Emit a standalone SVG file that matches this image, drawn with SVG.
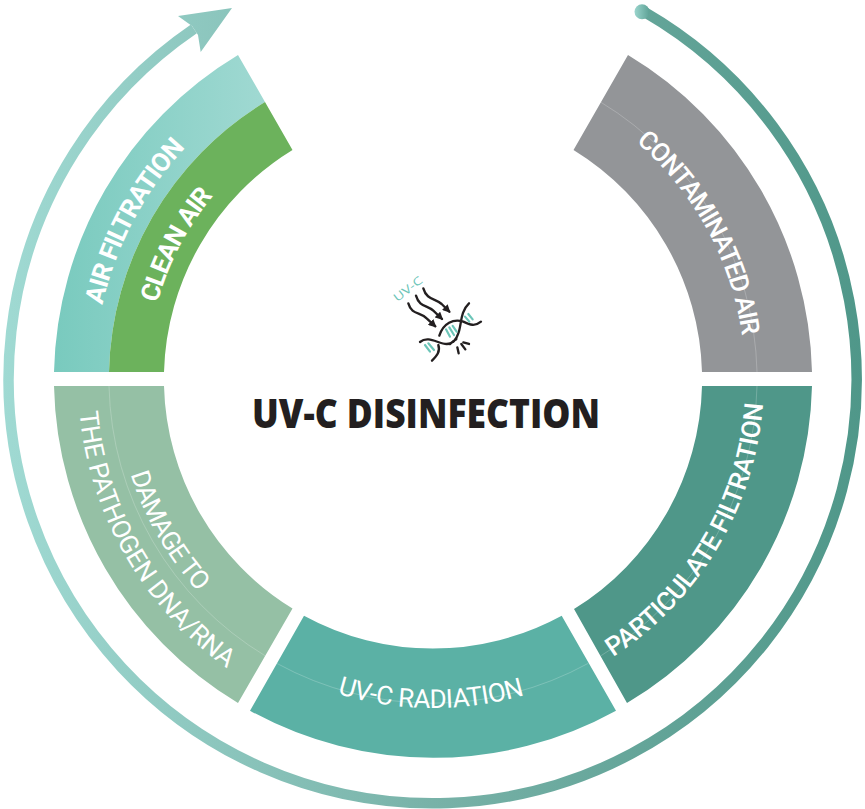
<svg xmlns="http://www.w3.org/2000/svg" width="865" height="809" viewBox="0 0 865 809">
<style>
.lbl{font-family:Roboto,"Noto Sans",sans-serif;font-size:26px;fill:#fff}
.b{font-weight:700}
.m{font-weight:500}
.hair{fill:none;stroke:#fff;stroke-opacity:.3;stroke-width:.7}
.ar{fill:none;stroke:#231f20;stroke-width:7;stroke-linecap:round}
.st{fill:none;stroke:#231f20;stroke-width:7;stroke-linecap:round;stroke-linejoin:round}
.bar{stroke:#6cc5b8;stroke-width:6.5;stroke-linecap:round;fill:none}
</style>
<defs>
<linearGradient id="ringG" gradientUnits="userSpaceOnUse" x1="0" y1="0" x2="865" y2="0"><stop offset="0" stop-color="#a0dad3"/><stop offset=".5" stop-color="#78b2a8"/><stop offset="1" stop-color="#4f9789"/></linearGradient>
<linearGradient id="airG" gradientUnits="userSpaceOnUse" x1="54" y1="0" x2="265" y2="0"><stop offset="0" stop-color="#79cabe"/><stop offset="1" stop-color="#a0d9d2"/></linearGradient>
<linearGradient id="dotG" x1="0" y1="0" x2="1" y2="0"><stop offset="0" stop-color="#9bd5cd"/><stop offset="1" stop-color="#5da296"/></linearGradient>
<marker id="mh" viewBox="0 0 10 10" refX="8" refY="5" markerWidth="24" markerHeight="24" markerUnits="userSpaceOnUse" orient="auto"><path d="M0 0L10 5L0 10z" fill="#231f20"/></marker>
<path id="pAir" d="M102.500 305A339 339 0 0 1 433 40"/>
<path id="pClean" d="M157.500 303A287 287 0 0 1 433 92"/>
<path id="pCont" d="M635.900 141.900A312 312 0 0 1 745 379A312 312 0 0 1 433 691"/>
<path id="pPart" d="M613 657A331 331 0 0 0 764 379A331 331 0 0 0 433 48"/>
<path id="pDam" d="M130.600 474.200A317 317 0 0 0 433 696"/>
<path id="pThe" d="M79.500 412A355 355 0 0 0 433 734"/>
<path id="pUv" d="M337.400 693.800A329 329 0 0 0 762 379"/>
</defs>
<g id="connectors">
<path d="M644.500 12A424 424 0 1 1 193.900 28.800" fill="none" stroke="url(#ringG)" stroke-width="10.500"/>
<polygon points="232,8 178,16 192,26 198,35 200.700,52" fill="url(#ringG)"/>
<circle cx="642" cy="11.700" r="7.500" fill="url(#dotG)"/>
</g>
<g id="air-filtration">
<path d="M54 372A379 379 0 0 1 238 55L265 102A324 324 0 0 0 109 372z" fill="url(#airG)"/>
<text class="lbl b"><textPath href="#pAir" textLength="180">AIR FILTRATION</textPath></text>
</g>
<g id="clean-air">
<path d="M109 372A324 324 0 0 1 265 102L292.500 150A269 269 0 0 0 164 372z" fill="#6cb25c"/>
<text class="lbl b"><textPath href="#pClean" textLength="122">CLEAN AIR</textPath></text>
</g>
<g id="contaminated-air">
<path d="M812 372A379 379 0 0 0 628 55L573.500 150A269 269 0 0 1 702 372z" fill="#939598"/>
<path class="hair" d="M600.500 102A324 324 0 0 1 757 372"/>
<text class="lbl m"><textPath href="#pCont" textLength="226">CONTAMINATED AIR</textPath></text>
</g>
<g id="particulate-filtration">
<path d="M812 386A379 379 0 0 1 627 703L574 609A269 269 0 0 0 702 386z" fill="#4f9789"/>
<path class="hair" d="M757 386A324 324 0 0 1 600.500 656"/>
<text class="lbl m"><textPath href="#pPart" textLength="305">PARTICULATE FILTRATION</textPath></text>
</g>
<g id="uvc-radiation">
<path d="M250 710.700A379 379 0 0 0 616 710.700L561.700 615.700A269 269 0 0 1 304 615.700z" fill="#5bb1a5"/>
<path class="hair" d="M276.700 663.300A324 324 0 0 0 588.300 663.300"/>
<text class="lbl"><textPath href="#pUv" textLength="190">UV-C RADIATION</textPath></text>
</g>
<g id="damage">
<path d="M54 386A379 379 0 0 0 238 703L292.500 608.500A269 269 0 0 1 164 386z" fill="#95c0a5"/>
<path class="hair" d="M109 386A324 324 0 0 0 265.500 656"/>
<text class="lbl"><textPath href="#pDam" textLength="137">DAMAGE TO</textPath></text>
<text class="lbl"><textPath href="#pThe" textLength="305">THE PATHOGEN DNA/RNA</textPath></text>
</g>
<g id="title">
<text x="252" y="428" font-family="'Open Sans',sans-serif" font-weight="800" font-size="41" fill="#231f20" textLength="348" lengthAdjust="spacingAndGlyphs">UV-C DISINFECTION</text>
</g>
<g id="icon" transform="translate(370 270) scale(.3333)">
<text transform="translate(82 97) rotate(-38)" font-family="'Open Sans',sans-serif" font-size="34" fill="#6cc5b8" textLength="100" lengthAdjust="spacingAndGlyphs">UV-C</text>
<path class="ar" marker-end="url(#mh)" d="M160 55C170 90 195 85 215 102L238 125"/>
<path class="ar" marker-end="url(#mh)" d="M138 77C148 112 172 105 190 122L216 147"/>
<path class="ar" marker-end="url(#mh)" d="M115 100C125 135 150 125 170 145L196 169"/>
<path class="st" d="M297 100C270 125 275 165 265 190C258 212 245 222 230 222C205 222 175 195 150 216"/>
<path class="st" d="M208 197C220 160 250 145 280 155C300 165 315 170 333 155"/>
<path class="st" d="M205 225C212 245 200 258 186 272"/>
<path class="st" stroke-dasharray="2 9" d="M240 222L262 205"/>
<path class="st" d="M262 232L266 250M274 222L286 238M280 217L297 222"/>
<path class="bar" d="M285 140L298 155M295 132L308 148M228 178L240 200M238 172L252 195M248 168L260 185M165 225L180 245M175 220L192 240"/>
</g>
</svg>
